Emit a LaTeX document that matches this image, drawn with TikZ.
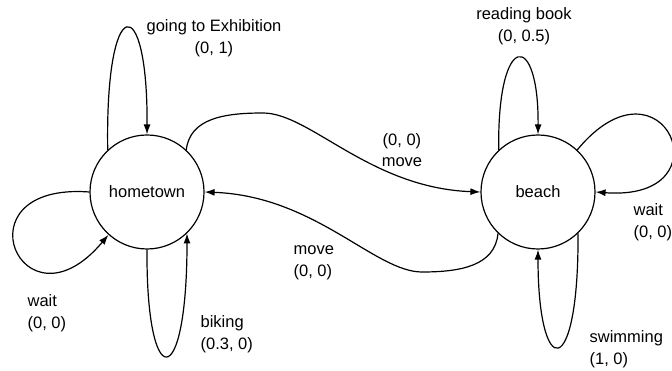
\documentclass[tikz,border=0pt]{standalone}
\usepackage{fontspec}
\setmainfont{Liberation Sans}
\usetikzlibrary{arrows.meta}

\begin{document}
\begin{tikzpicture}[x=1pt,y=-1pt,line width=1.2pt,
  every node/.style={font=\fontsize{16.5}{21.5}\selectfont},
  state/.style={draw,circle,minimum size=114pt,inner sep=0pt},
  lbl/.style={inner sep=0pt,align=left,anchor=west},
  trans/.style={-{Latex[length=10pt,width=7pt]}}]
\clip (0,0) rectangle (672,371);

\node[state] (hometown) at (147,192) {hometown};
\node[state] (beach) at (538,192) {beach};

\draw[trans] (hometown.133) .. controls (105,-10) and (148,-10) .. (hometown.north);
\draw[trans] (hometown.west) .. controls (-45,182) and (22,338) .. (hometown.228);
\draw[trans] (hometown.south) .. controls (146,394) and (187,394) .. (hometown.314);
\draw[trans] (hometown.47) .. controls (190,118) and (225,113) .. (263,113)
  .. controls (310,113) and (370,188) .. (beach.west);

\draw[trans] (beach.133) .. controls (497,30) and (539,30) .. (beach.north);
\draw[trans] (beach.47) .. controls (663,46) and (730,202) .. (beach.east);
\draw[trans] (beach.314) .. controls (579,382) and (538,382) .. (beach.south);
\draw[trans] (beach.226) .. controls (495,266) and (460,272) .. (422,272)
  .. controls (375,272) and (315,196) .. (hometown.east);

\node[inner sep=0pt,align=center] (l_exh) at (214,38) {going to Exhibition\\(0, 1)};
\node[inner sep=0pt,align=center] (l_read) at (524,26) {reading book\\(0, 0.5)};
\node[inner sep=0pt,align=center] (l_go) at (402,150) {(0, 0)\\move};
\node[lbl] (l_back) at (293,263) {move\\(0, 0)};
\node[lbl] (l_wait1) at (27,313) {wait\\(0, 0)};
\node[lbl] (l_bike) at (200,334) {biking\\(0.3, 0)};
\node[lbl] (l_wait2) at (633,222) {wait\\(0, 0)};
\node[lbl] (l_swim) at (589,349) {swimming\\(1, 0)};
\end{tikzpicture}
\end{document}
